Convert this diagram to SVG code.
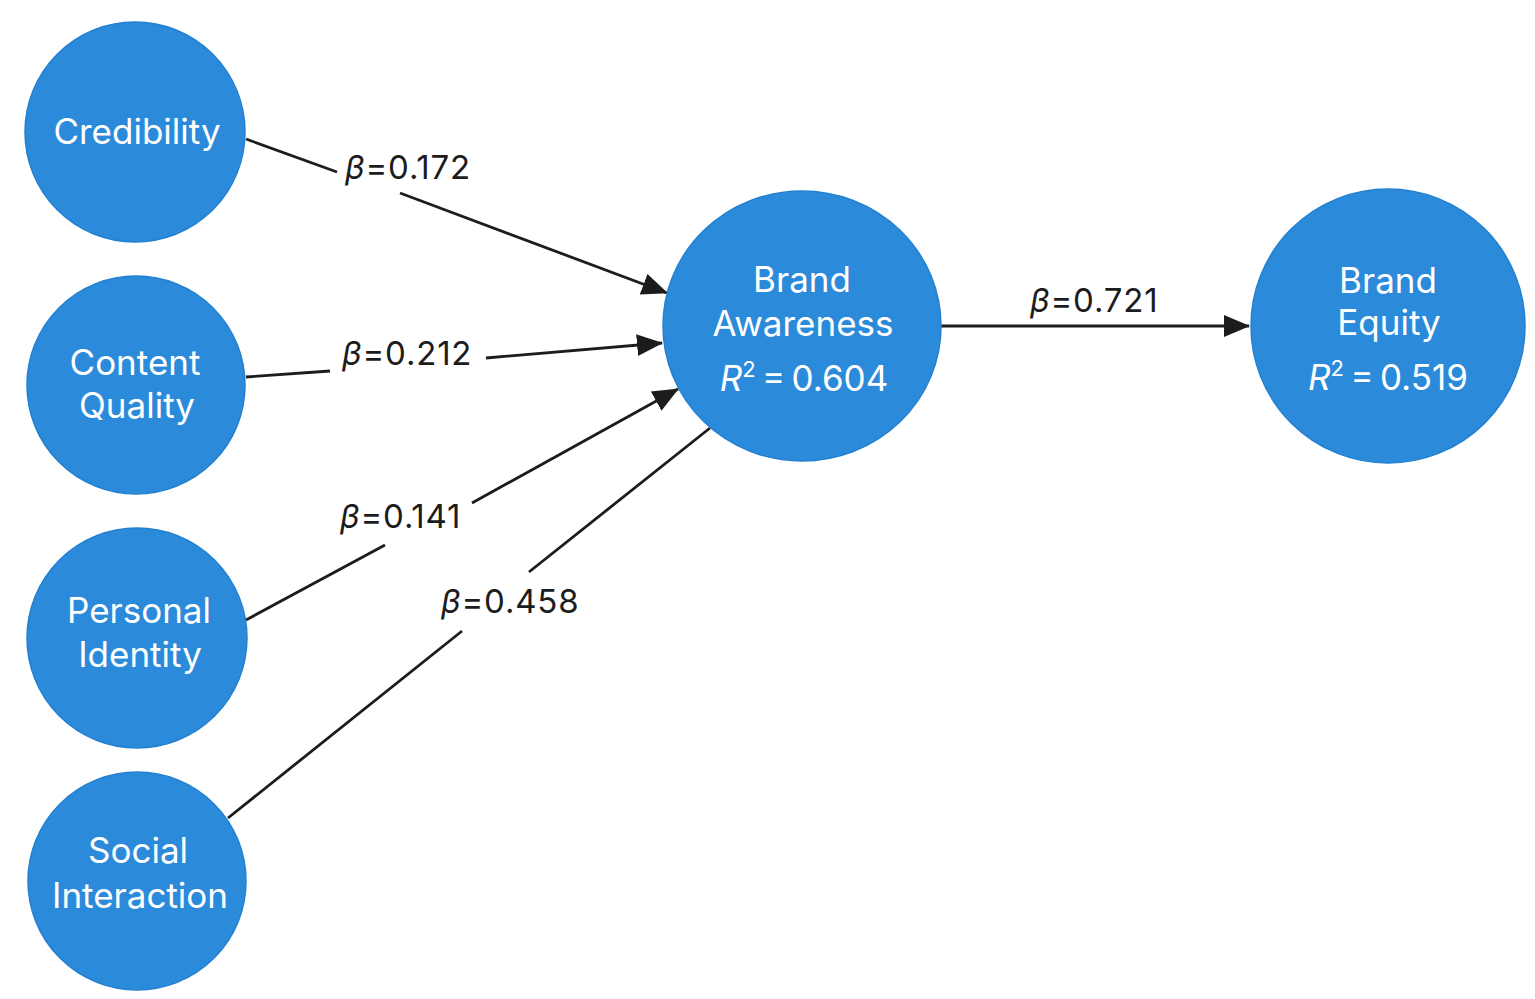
<svg xmlns="http://www.w3.org/2000/svg" width="1535" height="999" viewBox="0 0 1535 999">
<defs>
<style>
.node{fill:#2b8bda;stroke:#2380d0;stroke-width:1.5}
.nt{font-family:Inter,"Open Sans","Liberation Sans",sans-serif;font-size:35px;fill:#ffffff;text-anchor:middle}
.edge{stroke:#1c1c1c;stroke-width:2.8;fill:none}
.lbl{font-family:Inter,"Open Sans","Liberation Sans",sans-serif;font-size:33px;letter-spacing:0.8px;fill:#1c1c1c}
.it{font-style:italic}
</style>
<marker id="arr" markerUnits="userSpaceOnUse" markerWidth="28" markerHeight="24" refX="25" refY="11" orient="auto">
<path d="M0,0 L26,11 L0,22 z" fill="#1c1c1c"/>
</marker>
</defs>
<rect width="1535" height="999" fill="#ffffff"/>
<g id="connectors">
<line class="edge" x1="246" y1="139" x2="337" y2="172"/>
<line class="edge" x1="400" y1="193" x2="667" y2="293" marker-end="url(#arr)"/>
<line class="edge" x1="246" y1="377" x2="330" y2="371"/>
<line class="edge" x1="486" y1="358" x2="662" y2="343" marker-end="url(#arr)"/>
<line class="edge" x1="246" y1="620" x2="385" y2="545"/>
<line class="edge" x1="472" y1="503" x2="678" y2="389" marker-end="url(#arr)"/>
<line class="edge" x1="228" y1="818" x2="462" y2="631"/>
<line class="edge" x1="529" y1="572" x2="710" y2="428"/>
<line class="edge" x1="941" y1="326" x2="1249" y2="326" marker-end="url(#arr)"/>
<text class="lbl" x="345" y="179"><tspan class="it">β</tspan>=0.172</text>
<text class="lbl" x="342" y="365"><tspan class="it">β</tspan>=0.212</text>
<text class="lbl" x="340" y="528"><tspan class="it">β</tspan>=0.141</text>
<text class="lbl" x="441" y="613"><tspan class="it">β</tspan>=0.458</text>
<text class="lbl" x="1030" y="312"><tspan class="it">β</tspan>=0.721</text>
</g>
<g id="credibility">
<circle class="node" cx="135" cy="132" r="110"/>
<text class="nt" x="137" y="144">Credibility</text>
</g>
<g id="content-quality">
<circle class="node" cx="136" cy="385" r="109"/>
<text class="nt" x="135" y="375">Content</text>
<text class="nt" x="137" y="418">Quality</text>
</g>
<g id="personal-identity">
<circle class="node" cx="137" cy="638" r="110"/>
<text class="nt" x="139" y="623">Personal</text>
<text class="nt" x="140" y="667">Identity</text>
</g>
<g id="social-interaction">
<circle class="node" cx="137" cy="881" r="109"/>
<text class="nt" x="138" y="863">Social</text>
<text class="nt" x="140" y="908">Interaction</text>
</g>
<g id="brand-awareness">
<ellipse class="node" cx="802" cy="326" rx="139" ry="135"/>
<text class="nt" x="802" y="292">Brand</text>
<text class="nt" x="803" y="336">Awareness</text>
<text class="nt" x="804" y="391"><tspan class="it">R</tspan><tspan dy="-14" font-size="22">2</tspan><tspan dy="14">&#8201;=&#8201;0.604</tspan></text>
</g>
<g id="brand-equity">
<circle class="node" cx="1388" cy="326" r="137"/>
<text class="nt" x="1388" y="293">Brand</text>
<text class="nt" x="1389" y="335">Equity</text>
<text class="nt" x="1388" y="390"><tspan class="it">R</tspan><tspan dy="-14" font-size="22">2</tspan><tspan dy="14">&#8201;=&#8201;0.519</tspan></text>
</g>
</svg>
